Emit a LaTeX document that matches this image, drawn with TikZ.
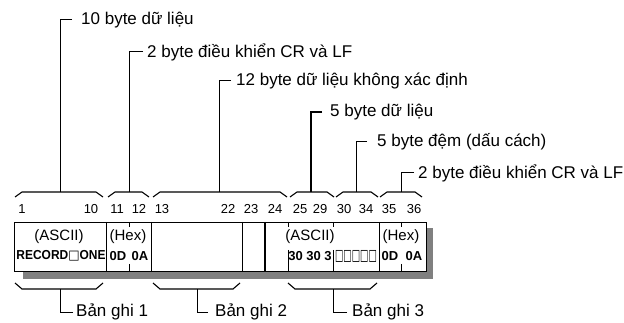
\documentclass[tikz,border=0pt]{standalone}
\usepackage{fontspec}
\setmainfont{Liberation Sans}
\newfontfamily\boxfont{DejaVu Sans}
\usepackage{tikz}
\usetikzlibrary{positioning,calc}
\definecolor{shadowgrey}{RGB}{128,128,128}

\begin{document}
\begin{tikzpicture}[
        x=1pt, y=-1pt,
        label/.style={anchor=west, inner sep=0pt, font=\fontsize{17}{19}\selectfont},
        num/.style={inner sep=0pt, font=\fontsize{13}{15}\selectfont},
        field/.style={inner sep=0pt, font=\fontsize{15}{17}\selectfont},
        bytes/.style={inner sep=0pt, font=\fontsize{13}{15}\selectfont\bfseries},
        lead/.style={line width=1pt, line join=miter},
        leadthick/.style={line width=1.8pt, line join=miter},
        brace/.style={line width=1.1pt},
        divider/.style={line width=0.9pt}
    ]
        \useasboundingbox (0,0) rectangle (624,323);

        % Shadow and record box
        \fill[shadowgrey] (23,271) rectangle (433,279);
        \fill[shadowgrey] (426,228) rectangle (433,279);
        \node[draw, line width=1.1pt, fill=white, minimum width=412pt, minimum height=49pt, inner sep=0pt, anchor=north west] (record) at (14,222) {};

        % Dividers
        \foreach \px/\lw in {106/0.9pt, 151/0.9pt, 242/0.7pt, 265/2pt, 379/0.9pt}
            \draw[line width=\lw] (\px,222) -- (\px,271);
        \foreach \px/\py in {129/264, 288/250, 333/250, 401/264} {
            \draw[divider] (\px,222) -- (\px,227);
            \draw[divider] (\px,\py) -- (\px,271);
        }

        % Byte numbers
        \foreach \px/\txt in {22/1, 91/10, 117/11, 139/12, 162/13, 228/22, 251/23, 275/24, 300/25, 320/29, 344/30, 366/34, 389/35, 414/36}
            \node[num] (n\txt) at (\px,209) {\txt};

        % Field contents
        \node[field] (ascii1) at (59,237) {(ASCII)};
        \node[field] (hex1) at (128,237) {(Hex)};
        \node[field] (ascii2) at (310,237) {(ASCII)};
        \node[field] (hex2) at (401,237) {(Hex)};
        \node[bytes] (rec) at (61,256) {\scalebox{0.92}[1]{RECORD{\boxfont □}ONE}};
        \node[bytes] (cr1) at (118,256) {0D};
        \node[bytes] (lf1) at (140,256) {0A};
        \node[bytes] (data) at (310,256) {30 30 3};
        \node[bytes] (pad) at (356,256) {\scalebox{0.68}[1.2]{\boxfont □□□□□}};
        \node[bytes] (cr2) at (390,256) {0D};
        \node[bytes] (lf2) at (414,256) {0A};

        % Top labels
        \node[label] (top1) at (81,20) {10 byte dữ liệu};
        \node[label] (top2) at (147,52) {2 byte điều khiển CR và LF};
        \node[label] (top3) at (236,81) {12 byte dữ liệu không xác định};
        \node[label] (top4) at (330,112) {5 byte dữ liệu};
        \node[label] (top5) at (377,142) {5 byte đệm (dấu cách)};
        \node[label] (top6) at (418,173) {2 byte điều khiển CR và LF};

        % Top braces
        \foreach \name/\xa/\xb/\xs in {b1/15/103/60, b2/108/149/129, b3/153/287/219, b4/290/334/311, b5/336/378/356, b6/380/422/401} {
            \coordinate (\name) at (\xs,192);
            \draw[brace] (\xa,197) -- (\xa+7,192) -- (\xb-7,192) -- (\xb,197);
        }

        % Leaders
        \draw[lead] ([xshift=-9pt]top1.west) -| (b1);
        \draw[lead] ([xshift=-4pt]top2.west) -| (b2);
        \draw[lead] ([xshift=-5pt]top3.west) -| (b3);
        \draw[leadthick] ([xshift=-8pt]top4.west) -| (b4);
        \draw[lead] ([xshift=-10pt]top5.west) -| (b5);
        \draw[lead] ([xshift=-4pt]top6.west) -| (b6);

        % Bottom labels
        \node[label] (rec1) at (76,312) {Bản ghi 1};
        \node[label] (rec2) at (215,312) {Bản ghi 2};
        \node[label] (rec3) at (352,312) {Bản ghi 3};
        \foreach \name/\xa/\xb/\xs in {c1/15/103/60, c2/153/240/197, c3/288/377/333} {
            \coordinate (\name) at (\xs,289);
            \draw[brace] (\xa,283) -- (\xa+7,289) -- (\xb-7,289) -- (\xb,283);
        }
        \draw[lead] ([xshift=-3pt]rec1.west) -| (c1);
        \draw[lead] ([xshift=-7pt]rec2.west) -| (c2);
        \draw[lead] ([xshift=-5pt]rec3.west) -| (c3);
\end{tikzpicture}
\end{document}
